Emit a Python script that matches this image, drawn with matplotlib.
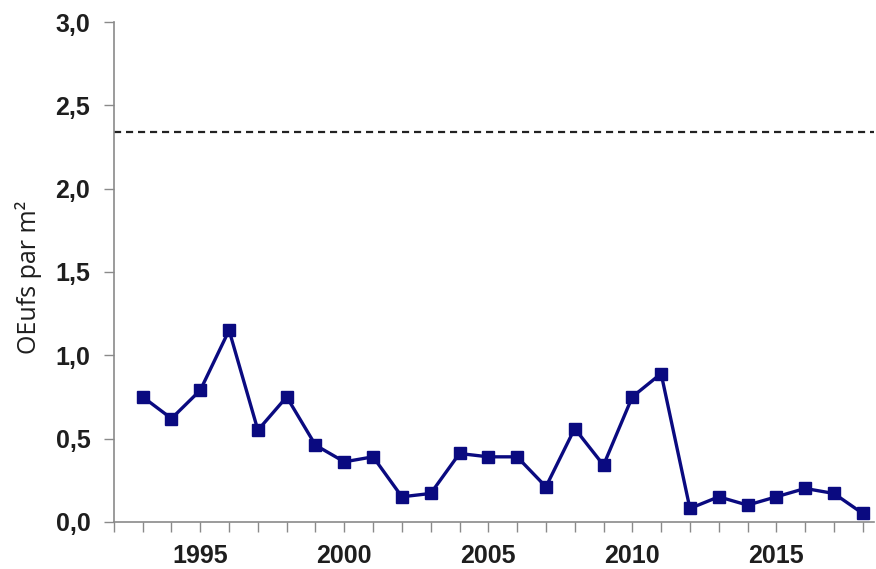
import matplotlib
matplotlib.use("Agg")
import matplotlib.pyplot as plt
from matplotlib.ticker import FixedLocator, FuncFormatter

# Egg density per square metre, by year
years = [1993, 1994, 1995, 1996, 1997, 1998, 1999, 2000, 2001, 2002, 2003, 2004, 2005,
         2006, 2007, 2008, 2009, 2010, 2011, 2012, 2013, 2014, 2015, 2016, 2017, 2018]
eggs = [0.75, 0.62, 0.79, 1.15, 0.55, 0.75, 0.46, 0.36, 0.39, 0.15, 0.17, 0.41, 0.39,
        0.39, 0.21, 0.56, 0.34, 0.75, 0.89, 0.08, 0.15, 0.10, 0.15, 0.20, 0.17, 0.05]
reference_level = 2.34

y_ticks = [0.0, 0.5, 1.0, 1.5, 2.0, 2.5, 3.0]
x_label_years = [1995, 2000, 2005, 2010, 2015]
x_tick_years = list(range(1992, 2019))

fig = plt.figure(figsize=(8.76, 5.69), dpi=100)
ax = fig.add_axes([0.130, 0.083, 0.868, 0.878])

ax.axhline(reference_level, color="#222222", linestyle=(0, (3.2, 2.2)), linewidth=1.6,
           zorder=1)
ax.plot(years, eggs, color="#0a0a80", linewidth=2.4, marker="s", markersize=8,
        markerfacecolor="#0a0a80", markeredgecolor="#0a0a80", zorder=3)

ax.set_xlim(1992, 2018.4)
ax.set_ylim(0, 3.0)

spine_col = "#8a8a8a"
for side in ("top", "right"):
    ax.spines[side].set_visible(False)
for side in ("left", "bottom"):
    ax.spines[side].set_color(spine_col)
    ax.spines[side].set_linewidth(1.2)

ax.yaxis.set_major_locator(FixedLocator(y_ticks))
ax.yaxis.set_major_formatter(FuncFormatter(lambda v, p: f"{v:.1f}".replace(".", ",")))
ax.xaxis.set_major_locator(FixedLocator(x_tick_years))
ax.xaxis.set_major_formatter(
    FuncFormatter(lambda v, p: str(int(round(v))) if int(round(v)) in x_label_years else ""))

ax.tick_params(axis="both", colors=spine_col, width=1.0, length=7, direction="out")
ax.tick_params(axis="x", pad=9)
ax.tick_params(axis="y", pad=10)
for lab in ax.get_xticklabels() + ax.get_yticklabels():
    lab.set_fontfamily("Liberation Sans")
    lab.set_fontweight("bold")
    lab.set_fontsize(18)
    lab.set_color("#1e1e1e")

ax.set_ylabel("OEufs par m²", fontsize=18, family="Open Sans", color="#1e1e1e")
ax.yaxis.set_label_coords(-0.095, 0.49)

fig.savefig("out.png", dpi=100)
